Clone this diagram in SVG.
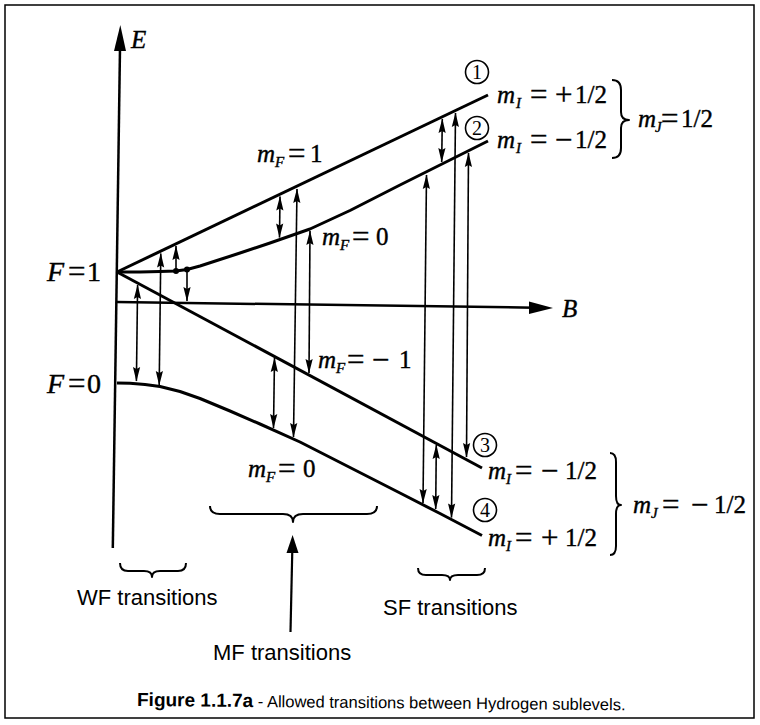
<svg xmlns="http://www.w3.org/2000/svg" width="760" height="725" viewBox="0 0 760 725">
<style>
.lvl{fill:none;stroke:#000;stroke-width:3;stroke-linejoin:round}
.ax{stroke:#000;stroke-width:2.5;fill:none}
.tr{stroke:#000;stroke-width:1.6;fill:none;marker-end:url(#ah)}
.dbl{marker-start:url(#ah)}
.br{fill:none;stroke:#000;stroke-width:2;stroke-linejoin:round}
.mt{font-family:"Liberation Serif","Times New Roman",serif;font-size:25px;fill:#000;stroke:#000;stroke-width:0.4}
.fl{font-size:28px}
.eq{font-size:31px}
.it{font-style:italic}
.sb{font-style:italic;font-size:15px}
.sans{font-family:"Liberation Sans",Arial,sans-serif;font-size:22px;fill:#000}
.num{font-family:"Liberation Serif","Times New Roman",serif;font-size:20px;text-anchor:middle;fill:#000}
.circ{fill:none;stroke:#000;stroke-width:1.6}
</style>
<defs>
<marker id="ah" viewBox="-15 -5 16 10" refX="0" refY="0" markerWidth="16" markerHeight="10" markerUnits="userSpaceOnUse" orient="auto-start-reverse">
<path d="M0.5,0 L-14,-3.6 L-12,0 L-14,3.6 Z" fill="#000"/>
</marker>
</defs>
<rect x="5" y="5" width="749" height="713" fill="none" stroke="#000" stroke-width="1.5"/>

<g id="axes">
<line class="ax" x1="112.8" y1="548" x2="120" y2="48"/>
<polygon points="120.3,25 114,51 126,51" fill="#000"/>
<line class="ax" x1="117" y1="302" x2="535" y2="307.7"/>
<polygon points="553,308 529,301.5 529,314" fill="#000"/>
<text class="mt it" x="131" y="48">E</text>
<text class="mt it" x="562" y="317">B</text>
</g>

<g id="levels">
<path id="l1" class="lvl" d="M117,272 L488,95"/>
<polyline id="l2" class="lvl" points="117,272 140,272 160,271.5 176,271 187,269.5 200,266 220,259.5 240,253 270,243 310,229 350,210.5 400,185 423,173.5 460,155 488,141"/>
<path id="l3" class="lvl" d="M117,272 L482,468"/>
<polyline id="l4" class="lvl" points="117,383 130,383.3 145,384.5 160,386.5 180,391.5 200,398.5 230,411 260,424 300,442 350,467.5 400,493 440,513.5 482,535.5"/>
</g>

<g id="transitions">
<line class="tr dbl" x1="137.6" y1="285" x2="136.4" y2="381"/>
<line class="tr dbl" x1="160.8" y1="253.5" x2="159.2" y2="385"/>
<line class="tr" x1="176" y1="271" x2="176" y2="246"/>
<line class="tr" x1="187" y1="270" x2="187" y2="301"/>
<circle cx="176" cy="271" r="3"/>
<circle cx="187" cy="269.5" r="3"/>
<line class="tr dbl" x1="280" y1="196.5" x2="279.5" y2="237.5"/>
<line class="tr dbl" x1="297" y1="189" x2="293.5" y2="437"/>
<line class="tr dbl" x1="310" y1="231" x2="309" y2="373"/>
<line class="tr dbl" x1="274.5" y1="358" x2="273.5" y2="428"/>
<line class="tr dbl" x1="426.5" y1="175" x2="423" y2="503"/>
<line class="tr dbl" x1="442.3" y1="119" x2="441.7" y2="162"/>
<line class="tr dbl" x1="455.5" y1="113" x2="451.5" y2="517.5"/>
<line class="tr dbl" x1="468.5" y1="153" x2="466.5" y2="457"/>
<line class="tr dbl" x1="436.3" y1="445" x2="435.7" y2="509"/>
</g>

<g id="state-numbers">
<circle class="circ" cx="477" cy="72" r="11.5"/><text class="num" x="477" y="79">1</text>
<circle class="circ" cx="477" cy="128" r="11.5"/><text class="num" x="477" y="135">2</text>
<circle class="circ" cx="485" cy="445" r="11.5"/><text class="num" x="485" y="452">3</text>
<circle class="circ" cx="485" cy="510" r="11.5"/><text class="num" x="485" y="517">4</text>
</g>

<g id="level-labels">
<text class="mt fl"><tspan class="it" x="47" y="281">F</tspan><tspan class="eq" x="68" y="282">=</tspan><tspan x="87" y="281">1</tspan></text>
<text class="mt fl"><tspan class="it" x="47" y="393">F</tspan><tspan class="eq" x="68" y="394">=</tspan><tspan x="87" y="393">0</tspan></text>
<text class="mt"><tspan class="it" x="257" y="162">m</tspan><tspan class="sb" x="275" y="167">F</tspan><tspan class="eq" x="288" y="164">=</tspan><tspan x="310" y="162">1</tspan></text>
<text class="mt"><tspan class="it" x="322" y="245">m</tspan><tspan class="sb" x="340" y="250">F</tspan><tspan class="eq" x="352" y="247">=</tspan><tspan x="376" y="245">0</tspan></text>
<text class="mt"><tspan class="it" x="318" y="368">m</tspan><tspan class="sb" x="336" y="373">F</tspan><tspan class="eq" x="347" y="370">=</tspan><tspan class="eq" x="372" y="370">−</tspan><tspan x="399" y="368">1</tspan></text>
<text class="mt"><tspan class="it" x="248" y="477">m</tspan><tspan class="sb" x="266" y="482">F</tspan><tspan class="eq" x="278" y="479">=</tspan><tspan x="303" y="477">0</tspan></text>
<text class="mt"><tspan class="it" x="497" y="103">m</tspan><tspan class="sb" x="516" y="108">I</tspan><tspan class="eq" x="530" y="105">=</tspan><tspan class="eq" x="555" y="105">+</tspan><tspan x="575" y="103">1/2</tspan></text>
<text class="mt"><tspan class="it" x="497" y="148">m</tspan><tspan class="sb" x="516" y="153">I</tspan><tspan class="eq" x="530" y="150">=</tspan><tspan class="eq" x="555" y="150">−</tspan><tspan x="575" y="148">1/2</tspan></text>
<text class="mt"><tspan class="it" x="638" y="127">m</tspan><tspan class="sb" x="655" y="132">J</tspan><tspan class="eq" x="661" y="129">=</tspan><tspan x="681" y="127">1/2</tspan></text>
<text class="mt"><tspan class="it" x="488" y="479">m</tspan><tspan class="sb" x="506" y="484">I</tspan><tspan class="eq" x="515" y="481">=</tspan><tspan class="eq" x="541" y="481">−</tspan><tspan x="565" y="479">1/2</tspan></text>
<text class="mt"><tspan class="it" x="488" y="546">m</tspan><tspan class="sb" x="506" y="551">I</tspan><tspan class="eq" x="515" y="548">=</tspan><tspan class="eq" x="541" y="548">+</tspan><tspan x="565" y="546">1/2</tspan></text>
<text class="mt"><tspan class="it" x="633" y="513">m</tspan><tspan class="sb" x="651" y="518">J</tspan><tspan class="eq" x="662" y="515">=</tspan><tspan class="eq" x="691" y="515">−</tspan><tspan x="714" y="513">1/2</tspan></text>
</g>

<g id="braces">
<path class="br" d="M612,80 Q621,80 621,90 L621,112 Q621,120 629,120 Q621,120 621,128 L621,148 Q621,158 612,158"/>
<path class="br" d="M610,453 Q616,453 616,462 L616,496 Q616,505 621,505 Q616,505 616,514 L616,546 Q616,555 610,555"/>
<path class="br" d="M120,563 Q120,571 128,571 L144,571 Q152,571 152,577 Q152,571 160,571 L178,571 Q186,571 186,563"/>
<path class="br" d="M210,506 Q210,514 220,514 L283,514 Q293,514 293,522 Q293,514 303,514 L367,514 Q377,514 377,506"/>
<path class="br" d="M418,568 Q418,575 426,575 L442,575 Q450,575 450,580 Q450,575 458,575 L477,575 Q485,575 485,568"/>
</g>

<g id="mf-arrow">
<line x1="290.5" y1="632" x2="292.3" y2="550" stroke="#000" stroke-width="2.2"/>
<polygon points="292.6,535 286.5,553 298.5,553" fill="#000"/>
</g>

<g id="region-labels">
<text class="sans" x="77" y="605">WF transitions</text>
<text class="sans" x="213" y="660">MF transitions</text>
<text class="sans" x="383" y="615">SF transitions</text>
</g>

<g id="caption" transform="rotate(0.5 137 706)">
<text x="137" y="706" font-family="Liberation Sans, Arial, sans-serif" fill="#000"><tspan font-weight="bold" font-size="19">Figure 1.1.7a</tspan><tspan font-size="16.5"> - Allowed transitions between Hydrogen sublevels.</tspan></text>
</g>
</svg>
